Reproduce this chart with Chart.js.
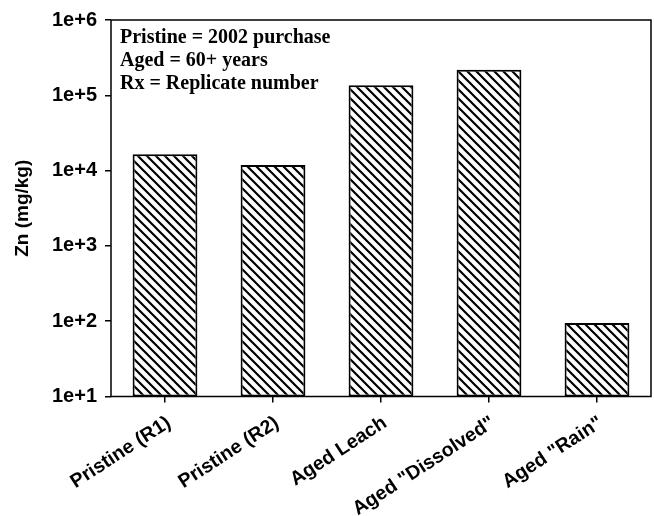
<!DOCTYPE html>
<html>
<head>
<meta charset="utf-8">
<script src="https://cdn.jsdelivr.net/npm/chart.js@4/dist/chart.umd.min.js"></script>
<style>
  html, body { margin: 0; padding: 0; background: #fff; }
  canvas { display: block; }
</style>
</head>
<body>
<canvas id="zn" width="654" height="516"></canvas>
<script>
// Zinc concentration by sample
const categories = ['Pristine (R1)', 'Pristine (R2)', 'Aged Leach', 'Aged "Dissolved"', 'Aged "Rain"'];
const znValues = [16500, 11900, 136000, 219000, 95];
const yTickValues = [10, 100, 1000, 10000, 100000, 1000000];
const yTickLabels = ['1e+1', '1e+2', '1e+3', '1e+4', '1e+5', '1e+6'];
const notes = ['Pristine = 2002 purchase', 'Aged = 60+ years', 'Rx = Replicate number'];

// Back-slash hatch fill for the bars
function hatchPattern() {
  const s = 9;
  const c = document.createElement('canvas');
  c.width = s; c.height = s;
  const g = c.getContext('2d');
  g.fillStyle = '#fff';
  g.fillRect(0, 0, s, s);
  g.strokeStyle = '#000';
  g.lineWidth = 2.2;
  g.beginPath();
  g.moveTo(-1, -1); g.lineTo(s + 1, s + 1);
  g.moveTo(s - 2, -2); g.lineTo(s + 2, 2);
  g.moveTo(-2, s - 2); g.lineTo(2, s + 2);
  g.stroke();
  return document.getElementById('zn').getContext('2d').createPattern(c, 'repeat');
}

const frameAndNotes = {
  id: 'frameAndNotes',
  afterDraw(chart) {
    const { ctx, chartArea: a } = chart;
    ctx.save();
    ctx.strokeStyle = '#000';
    ctx.lineWidth = 1.5;
    ctx.strokeRect(a.left, a.top, a.right - a.left, a.bottom - a.top);
    ctx.fillStyle = '#000';
    ctx.font = 'bold 20px "Liberation Serif", "Times New Roman", serif';
    ctx.textAlign = 'left';
    ctx.textBaseline = 'alphabetic';
    notes.forEach((t, i) => ctx.fillText(t, a.left + 9, a.top + 22.5 + i * 23));
    ctx.restore();
  }
};

const sansBold = size => ({ family: '"Liberation Sans", Arial, sans-serif', weight: 'bold', size });

new Chart(document.getElementById('zn'), {
  type: 'bar',
  data: {
    labels: categories,
    datasets: [{
      data: znValues,
      backgroundColor: hatchPattern(),
      borderColor: '#000',
      borderWidth: 2,
      borderSkipped: false,
      categoryPercentage: 1,
      barPercentage: 0.6
    }]
  },
  options: {
    responsive: false,
    animation: false,
    devicePixelRatio: 1,
    layout: { padding: { top: 18.5, right: 3, left: 0, bottom: 0 } },
    plugins: { legend: { display: false }, tooltip: { enabled: false } },
    scales: {
      x: {
        offset: true,
        grid: { offset: false, drawOnChartArea: false, drawTicks: true, tickLength: 6, color: '#000', lineWidth: 1.5 },
        border: { display: false },
        ticks: {
          color: '#000',
          font: sansBold(19.5),
          minRotation: 33, maxRotation: 33,
          padding: 9,
          labelOffset: 4,
          autoSkip: false
        },
        afterFit(scale) { scale.height = 119.5; }
      },
      y: {
        type: 'logarithmic',
        min: 10,
        max: 1000000,
        grid: { drawOnChartArea: false, drawTicks: true, tickLength: 6, color: '#000', lineWidth: 1.5 },
        border: { display: false },
        ticks: {
          color: '#000',
          font: sansBold(20),
          padding: 8,
          callback(value) {
            const i = yTickValues.indexOf(value);
            return i >= 0 ? yTickLabels[i] : '';
          }
        },
        afterBuildTicks(scale) { scale.ticks = yTickValues.map(v => ({ value: v })); },
        title: {
          display: true,
          text: 'Zn (mg/kg)',
          color: '#000',
          font: sansBold(19),
          padding: { top: 11, bottom: 0 }
        },
        afterFit(scale) { scale.width = 111; }
      }
    }
  },
  plugins: [frameAndNotes]
});
</script>
</body>
</html>
